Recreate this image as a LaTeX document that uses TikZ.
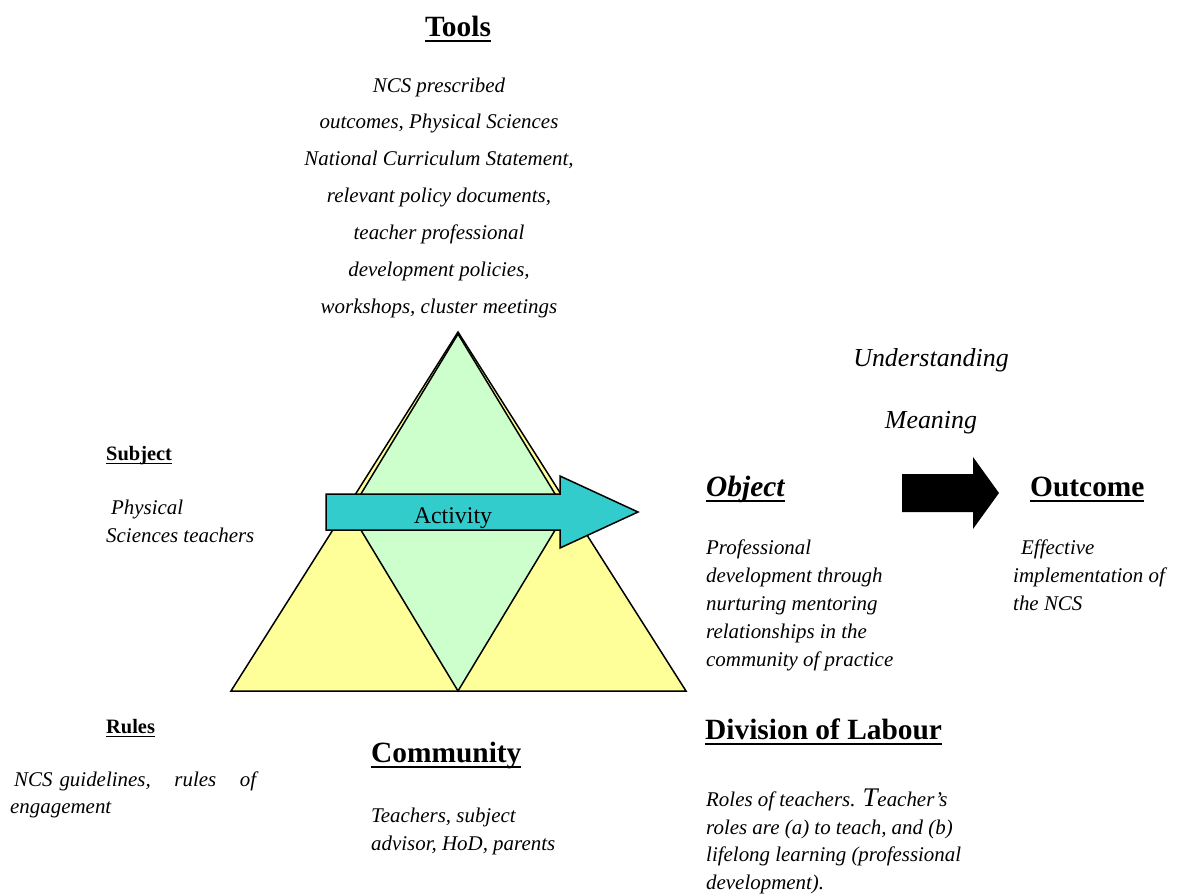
\documentclass[tikz,border=0pt]{standalone}
\usepackage{fontspec}
\setmainfont{Liberation Serif}
\definecolor{triyellow}{HTML}{FFFF99}
\definecolor{trigreen}{HTML}{CCFFCC}
\definecolor{actcyan}{HTML}{33CCCC}
\newcommand{\headul}[1]{\setbox0=\hbox{#1}\rlap{\rule[-0.2em]{\wd0}{0.07em}}\box0}
\begin{document}
\begin{tikzpicture}[x = 1bp, y = -1bp,
	head/.style = {font = \fontsize{29.5}{34}\selectfont\bfseries, inner sep = 0, anchor = base west},
	small head/.style = {font = \fontsize{20.5}{24}\selectfont\bfseries, inner sep = 0, anchor = base west},
	body/.style = {font = \fontsize{21}{28}\selectfont\itshape, inner sep = 0, align = left, anchor = north west},
	label/.style = {font = \fontsize{26}{30}\selectfont\itshape, inner sep = 0, anchor = base}]
\useasboundingbox (0,0) rectangle (1182,896);
% activity triangle
\filldraw [fill = triyellow, line width = 1.5bp, line join = miter]
	(458,332) -- (231,691) -- (686,691) -- cycle;
\filldraw [fill = trigreen, line width = 1.5bp]
	(458,334) -- (350,512) -- (458,691) -- (566,512) -- cycle;
% arrows
\filldraw [fill = actcyan, line width = 1.5bp]
	(326,494) -- (560,494) -- (560,476) -- (638,512) -- (560,548) -- (560,530) -- (326,530) -- cycle;
\fill [black]
	(902,474) -- (973,474) -- (973,457) -- (999,493) -- (973,529) -- (973,512) -- (902,512) -- cycle;
\node (activity) [font = \fontsize{24}{28}\selectfont, inner sep = 0, anchor = base] at (453,523) {Activity};
% tools
\node (tools) [head, anchor = base] at (458,36) {\headul{Tools}};
\node (toolstxt) [body, font = \fontsize{21}{37}\selectfont\itshape, align = center, anchor = north]
	at (439,66.1) {\strut NCS prescribed\\outcomes, Physical Sciences\\National Curriculum Statement,\\relevant policy documents,\\teacher professional\\development policies,\\workshops, cluster meetings};
% subject
\node (subject) [small head] at (106,460) {\headul{Subject}};
\node (subjecttxt) [body, font = \fontsize{21}{28.5}\selectfont\itshape] at (106,494)
	{\strut\hspace*{5bp}Physical\\Sciences teachers};
% rules
\node (rules) [small head] at (106,733) {\headul{Rules}};
\node (rulestxt) [body, font = \fontsize{21}{27}\selectfont\itshape, text width = 246bp] at (10,767.1)
	{\strut\hspace*{4bp}NCS guidelines,\hfill rules\hfill of\\engagement};
% community
\node (community) [head] at (371,762) {\headul{Community}};
\node (communitytxt) [body] at (371,802.4) {\strut Teachers, subject\\advisor, HoD, parents};
% object
\node (object) [head, font = \fontsize{29.5}{34}\selectfont\bfseries\itshape] at (706,496) {\headul{Object}};
\node (objecttxt) [body, font = \fontsize{21}{28.25}\selectfont\itshape] at (706,534.2)
	{\strut Professional\\development through\\nurturing mentoring\\relationships in the\\community of practice};
\node (understanding) [label] at (931,366) {Understanding};
\node (meaning) [label] at (931,428) {Meaning};
% outcome
\node (outcome) [head] at (1030,496) {\headul{Outcome}};
\node (outcometxt) [body] at (1013,535)
	{\strut\hspace*{8bp}Effective\\implementation of\\the NCS};
% division of labour
\node (labour) [head] at (705,739) {\headul{Division of Labour}};
\node (labourtxt) [body] at (706,786.4)
	{\strut Roles of teachers. {\fontsize{27}{28}\selectfont T}eacher’s\\roles are (a) to teach, and (b)\\lifelong learning (professional\\development).};
\end{tikzpicture}
\end{document}
